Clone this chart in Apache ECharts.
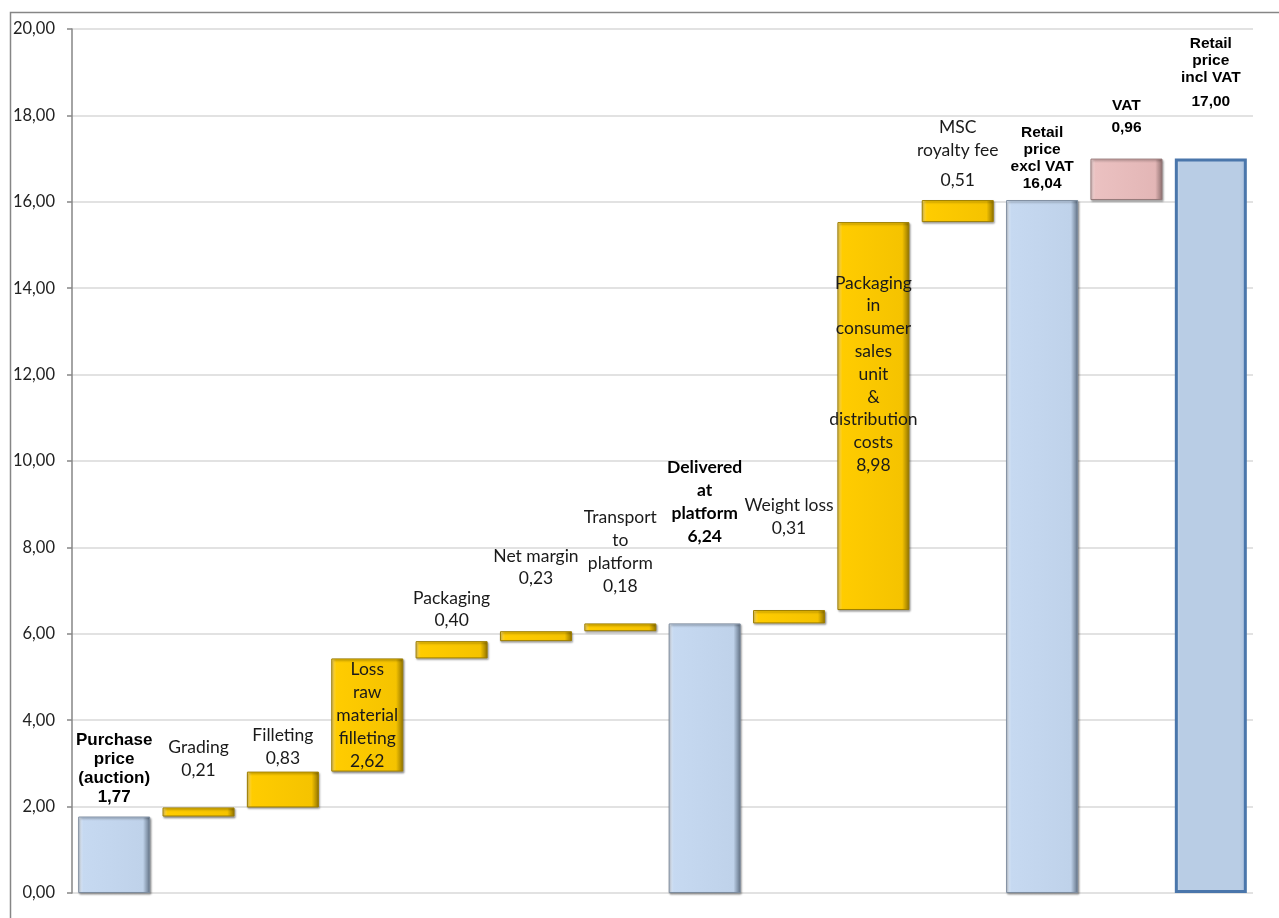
<!DOCTYPE html>
<html>
<head>
<meta charset="utf-8">
<script src="https://cdn.jsdelivr.net/npm/echarts@6/dist/echarts.min.js"></script>
<style>
html,body{margin:0;padding:0;background:#fff;}
#chart{width:1279px;height:918px;}
</style>
</head>
<body>
<div id="chart"></div>
<script>
// ---- data ----
const categories = ['Purchase price (auction)', 'Grading', 'Filleting', 'Loss raw material filleting', 'Packaging', 'Net margin', 'Transport to platform', 'Delivered at platform', 'Weight loss', 'Packaging in consumer sales unit & distribution costs', 'MSC royalty fee', 'Retail price excl VAT', 'VAT', 'Retail price incl VAT'];
const labelLines = [['Purchase','price','(auction)'], ['Grading'], ['Filleting'], ['Loss','raw','material','filleting'], ['Packaging'], ['Net margin'], ['Transport','to','platform'], ['Delivered','at','platform'], ['Weight loss'], ['Packaging','in','consumer','sales','unit','&','distribution','costs'], ['MSC','royalty fee'], ['Retail','price','excl VAT'], ['VAT'], ['Retail','price','incl VAT']];
const values = [1.77, 0.21, 0.83, 2.62, 0.40, 0.23, 0.18, 6.24, 0.31, 8.98, 0.51, 16.04, 0.96, 17.00];
const kinds = ['total','step','step','step','step','step','step','total','step','step','step','total','step','total'];
const colorGroups = ['blue','gold','gold','gold','gold','gold','gold','blue','gold','gold','gold','blue','pink','final'];
const yMin = 0, yMax = 20, yInterval = 2;

// waterfall bases from running totals
const bases = [];
let running = 0;
values.forEach((v, i) => {
  if (kinds[i] === 'total') { bases.push(0); running = v; }
  else { bases.push(running); running += v; }
});

const fmt = v => v.toFixed(2).replace('.', ',');

function grad(light, mid, mid2, dark) {
  return {type:'linear', x:0, y:0, x2:1, y2:0, colorStops:[
    {offset:0, color:light},{offset:0.07, color:mid},{offset:0.9, color:mid2},{offset:1, color:dark}]};
}
const sh = {shadowColor:'rgba(0,0,0,0.35)', shadowBlur:2, shadowOffsetX:1, shadowOffsetY:1.5};
const styles = {
  blue: Object.assign({color: grad('#EEF4FB','#C6D9F1','#BFD2EA','#5F6F82'), borderColor:'#7D8C9E', borderWidth:1}, sh),
  gold: Object.assign({color: grad('#FFE27A','#FFCC00','#F5C300','#8F7200'), borderColor:'#9C7D00', borderWidth:1}, sh),
  pink: Object.assign({color: grad('#FBE3E3','#EBC1C1','#E3B6B6','#8C6E6E'), borderColor:'#957878', borderWidth:1}, sh),
  final: {color: grad('#D6E4F3','#B9CDE5','#B9CDE5','#A9C0DC'), borderColor:'#4A76AB', borderWidth:3}
};

// label layout (style only)
const labelCfg = [
  {st:['a','a','a','a'], pos:'top', d:10},
  {st:['n','n'], pos:'top', d:26},
  {st:['n','n'], pos:'top', d:2},
  {st:['n','n','n','n','n'], pos:'insideTop', d:0},
  {st:['n','n'], pos:'top', d:9},
  {st:['n','n'], pos:'top', d:41},
  {st:['n','n','n','n'], pos:'top', d:26},
  {st:['nb','nb','nb','nb'], pos:'top', d:76},
  {st:['n','n'], pos:'top', d:70},
  {st:['n','n','n','n','n','n','n','n','n'], pos:'insideTop', d:49.5},
  {st:['n','n','ml'], pos:'top', d:1.5},
  {st:['s','s','s','s'], pos:'top', d:7.5},
  {st:['s22','s22'], pos:'top', d:19.6},
  {st:['s','s','s','sl'], pos:'top', d:41}
];

const valueData = values.map((v, i) => {
  const lines = labelLines[i].concat([fmt(v)]);
  const cfg = labelCfg[i];
  const text = lines.map((t, k) => '{' + cfg.st[k] + '|' + t + '}').join('\n');
  return {
    value: v,
    itemStyle: styles[colorGroups[i]],
    label: {show:true, position: cfg.pos, distance: cfg.d, formatter: text}
  };
});

const txt = '#1a1a1a';
const rich = {
  n: {fontFamily:'Lato', fontSize:17.5, lineHeight:22.8, color:txt},
  ml: {fontFamily:'Lato', fontSize:17.5, lineHeight:37, color:txt},
  nb: {fontFamily:'Lato', fontSize:17.5, fontWeight:'bold', lineHeight:23, color:'#000'},
  a: {fontFamily:'Liberation Sans', fontSize:17, fontWeight:'bold', lineHeight:19, color:'#000'},
  s: {fontFamily:'Liberation Sans', fontSize:15.5, fontWeight:'bold', lineHeight:17, color:'#000'},
  s22: {fontFamily:'Liberation Sans', fontSize:15.5, fontWeight:'bold', lineHeight:22, color:'#000'},
  sl: {fontFamily:'Liberation Sans', fontSize:15.5, fontWeight:'bold', lineHeight:31, color:'#000'}
};

const chart = echarts.init(document.getElementById('chart'), null, {renderer:'canvas'});
chart.setOption({
  animation: false,
  backgroundColor: '#fff',
  grid: {left:72, right:26, top:29, bottom:25, containLabel:false},
  xAxis: {
    type:'category', data: categories,
    axisLine:{show:false}, axisTick:{show:false}, axisLabel:{show:false}
  },
  yAxis: {
    type:'value', min:yMin, max:yMax, interval:yInterval,
    axisLine:{show:true, lineStyle:{color:'#868686', width:1.5}},
    axisTick:{show:true, length:5, lineStyle:{color:'#868686', width:1.5}},
    axisLabel:{formatter: v => fmt(v), fontFamily:'Lato', fontSize:16.5, color:'#222', margin:17},
    splitLine:{show:true, lineStyle:{color:'#D9D9D9', width:1.5}}
  },
  graphic: [{
    type:'polyline', silent:true,
    shape:{points:[[10.5,918],[10.5,12.5],[1279,12.5]]},
    style:{stroke:'#868686', lineWidth:1.5, fill:null}
  }],
  series: [
    {type:'bar', stack:'w', data: bases, barWidth:72, itemStyle:{color:'transparent'}, silent:true},
    {type:'bar', stack:'w', data: valueData, barWidth:72, label:{show:true, rich: rich}}
  ]
});
</script>
</body>
</html>
